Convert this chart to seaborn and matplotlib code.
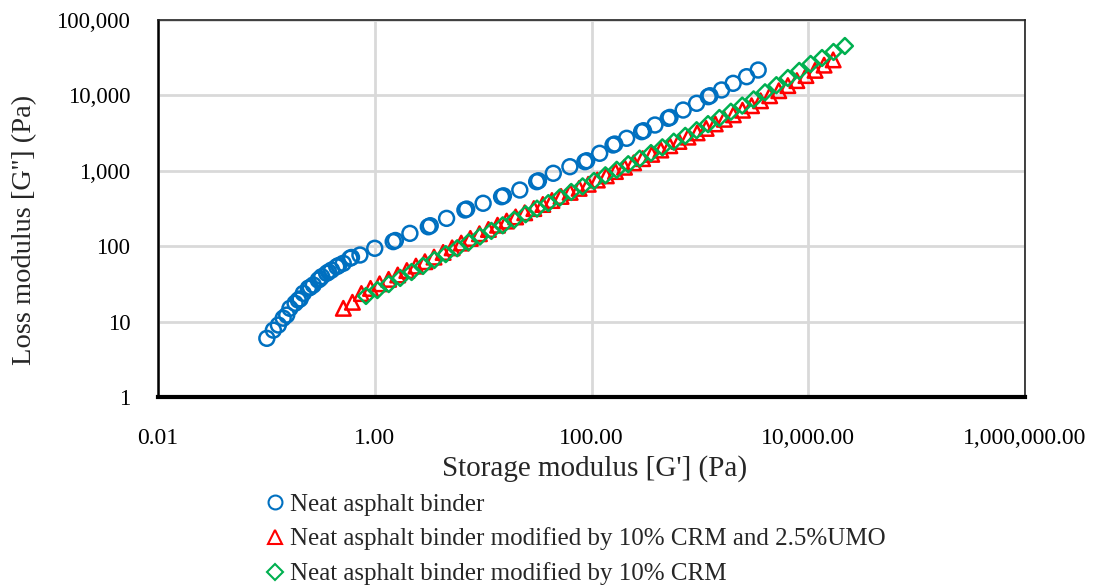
import matplotlib
matplotlib.use("Agg")
import matplotlib.pyplot as plt
from matplotlib.lines import Line2D
from matplotlib.ticker import FixedLocator, FixedFormatter, NullLocator
import seaborn as sns
import pandas as pd

# ---------------- data ----------------
neat_gp = [0.101, 0.116, 0.129, 0.143, 0.154, 0.165, 0.184, 0.197, 0.219, 0.244,
           0.271, 0.301, 0.324, 0.360, 0.400, 0.446, 0.512, 0.590, 0.730, 1.00,
           1.48, 2.11, 3.12, 4.60, 6.79, 10.0, 14.8, 21.8, 31.2, 44.4,
           63.2, 86.9, 119, 158, 211, 290, 385, 510, 701, 933,
           1194, 1585, 2028, 2698, 3451,
           0.205, 0.254, 0.312, 0.375, 0.465, 0.61, 1.55, 3.25, 7.05, 15.4,
           32.4, 90.3, 164, 302, 530, 1240]
neat_gpp = [6.0, 7.7, 9.0, 11.1, 12.2, 15.0, 17.5, 19.3, 23.7, 27.7,
            30.6, 35.6, 39.4, 43.7, 48.3, 53.5, 59.3, 69.1, 76.4, 93.8,
            115, 148, 181, 234, 302, 371, 453, 556, 717, 927,
            1133, 1321, 1706, 2198, 2698, 3302, 4048, 4966, 6397, 7853,
            9613, 11800, 14460, 17700, 21700,
            20.0, 28.5, 37.0, 45.5, 55.5, 71.0, 119, 187, 311, 466,
            738, 1360, 2265, 3400, 5110, 9900]

crm_umo_gp = [0.513, 0.622, 0.753, 0.914, 1.109, 1.343, 1.629, 1.977, 2.399, 2.904,
              3.524, 4.276, 5.176, 6.281, 7.621, 9.247, 11.19, 13.58, 16.48, 19.95,
              24.21, 29.38, 35.56, 43.15, 52.36, 63.53, 76.91, 93.33, 113.2, 137.1,
              166.3, 201.8, 244.9, 296.5, 359.7, 436.5, 528.4, 641.2, 778.0, 944.1,
              1143, 1387, 1683, 2037, 2472, 2999, 3631, 4406, 5346, 6486,
              7852, 9528, 11560, 14000, 16980]
crm_umo_gpp = [15.0, 18.03, 23.55, 27.54, 31.70, 36.31, 41.50, 47.53, 54.45, 62.23,
               71.61, 82.60, 95.06, 109.9, 126.8, 146.2, 166.7, 189.7, 215.3, 244.3,
               277.3, 315.5, 357.3, 403.6, 457.1, 517.6, 584.8, 662.2, 753.4, 857.0,
               977.2, 1114, 1274, 1449, 1652, 1884, 2148, 2449, 2793, 3184,
               3648, 4188, 4819, 5521, 6353, 7295, 8472, 9886, 11530, 13490,
               15700, 18320, 21480, 25180, 29580]

crm_gp = [0.830, 1.057, 1.346, 1.718, 2.188, 2.786, 3.548, 4.519, 5.768, 7.345,
          9.354, 11.91, 15.17, 19.36, 24.66, 31.41, 39.99, 50.93, 65.01, 82.79,
          105.4, 134.3, 171.0, 218.3, 278.0, 354.0, 450.8, 574.1, 732.8, 933.3,
          1189, 1514, 1932, 2460, 3133, 3990, 5082, 6486, 8260, 10520,
          13400, 17100, 21780]
crm_gpp = [21.88, 26.18, 31.48, 37.93, 45.50, 54.70, 65.61, 78.52, 93.97, 112.5,
           134.6, 159.6, 189.2, 224.4, 265.5, 314.8, 372.4, 441.6, 523.6, 620.9,
           734.5, 871.0, 1030, 1222, 1449, 1718, 2046, 2432, 2904, 3451,
           4159, 5012, 6067, 7328, 8851, 10990, 13650, 17020, 21130, 26120,
           31330, 37670, 45190]

series_labels = ["Neat asphalt binder",
                 "Neat asphalt binder modified by 10% CRM and 2.5%UMO",
                 "Neat asphalt binder modified by 10% CRM"]
x_ticks = [0.01, 1, 100, 10000, 1000000]
x_tick_labels = ["0.01", "1.00", "100.00", "10,000.00", "1,000,000.00"]
y_ticks = [1, 10, 100, 1000, 10000, 100000]
y_tick_labels = ["1", "10", "100", "1,000", "10,000", "100,000"]
x_title = "Storage modulus [G'] (Pa)"
y_title = "Loss modulus [G''] (Pa)"

# ---------------- styling ----------------
sns.set_theme(style="white")
plt.rcParams["font.family"] = ["Liberation Serif", "DejaVu Serif"]

colors = ["#0070C0", "#FF0000", "#00B050"]
markers = ["o", "^", "D"]
sizes = [115, 110, 66]

fig = plt.figure(figsize=(10.94, 5.85), dpi=100)
ax = fig.add_axes([158 / 1094, 1 - 397 / 585, (1025 - 158) / 1094, (397 - 20) / 585])

datasets = [(neat_gp, neat_gpp), (crm_umo_gp, crm_umo_gpp), (crm_gp, crm_gpp)]
for (gx, gy), lab, c, m, s in zip(datasets, series_labels, colors, markers, sizes):
    df = pd.DataFrame({"G'": gx, "G''": gy})
    n_before = len(ax.collections)
    sns.scatterplot(data=df, x="G'", y="G''", ax=ax, marker=m, s=s,
                    color=c, linewidth=1.8, legend=False, zorder=3)
    coll = ax.collections[n_before]
    coll.set_facecolor("none")
    coll.set_edgecolor(c)
    coll.set_linewidth(1.8)

ax.set_xscale("log")
ax.set_yscale("log")
ax.set_xlim(0.01, 1000000)
ax.set_ylim(1, 100000)
ax.xaxis.set_major_locator(FixedLocator(x_ticks))
ax.xaxis.set_major_formatter(FixedFormatter(x_tick_labels))
ax.xaxis.set_minor_locator(NullLocator())
ax.yaxis.set_major_locator(FixedLocator(y_ticks))
ax.yaxis.set_major_formatter(FixedFormatter(y_tick_labels))
ax.yaxis.set_minor_locator(NullLocator())

ax.grid(True, which="major", color="#D9D9D9", linewidth=2.0)
ax.set_axisbelow(True)
ax.tick_params(axis="both", length=0, colors="black")
ax.tick_params(axis="x", pad=22, labelsize=17)
ax.tick_params(axis="y", pad=20, labelsize=16.5)

for side in ["right", "top"]:
    ax.spines[side].set_color("#222222")
    ax.spines[side].set_linewidth(1.2)
ax.spines["bottom"].set_color("black")
ax.spines["bottom"].set_linewidth(3.0)
ax.spines["left"].set_linewidth(1.8)
ax.spines["left"].set_color("black")

ax.set_xlabel("")
ax.set_ylabel("")
fig.text(595 / 1094, 1 - 469 / 585, x_title, ha="center", va="center", fontsize=21)
fig.text(25 / 1094, 1 - 230 / 585, y_title, ha="center", va="center",
         rotation=90, fontsize=20.5)

handles = [Line2D([0], [0], marker=m, linestyle="none", markerfacecolor="none",
                  markeredgecolor=c, markeredgewidth=1.5, markersize=ms)
           for m, c, ms in zip(markers, colors, [10, 10, 8])]
fig.legend(handles, series_labels, loc="upper left",
           bbox_to_anchor=(266 / 1094, 1 - 493 / 585), frameon=False,
           fontsize=18, handlelength=0.7, handletextpad=0.25, labelspacing=0.48,
           borderaxespad=0, borderpad=0)

fig.savefig("out.png", dpi=100, facecolor="white")
